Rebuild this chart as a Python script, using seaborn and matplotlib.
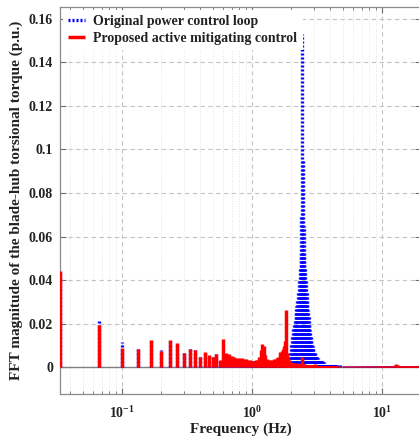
import numpy as np
import pandas as pd
import matplotlib
matplotlib.use("Agg")
import matplotlib.pyplot as plt
import seaborn as sns
from matplotlib.ticker import LogLocator, FixedLocator, FuncFormatter

# FFT bins: k/30 Hz, k = 1..132 (0.033 - 4.4 Hz)
bin_freq = np.arange(1, 133) / 30.0

red_mag = [
    0.0443, 0.0193, 0.0089, 0.0084, 0.0123, 0.0073, 0.0125, 0.0109, 0.0064, 0.0083,
    0.0077, 0.0047, 0.0067, 0.0053, 0.0047, 0.0062, 0.0030, 0.0128, 0.0066, 0.0062,
    0.0050, 0.0048, 0.0043, 0.0042, 0.0040, 0.0039, 0.0036, 0.0033, 0.0030, 0.0028,
    0.0029, 0.0031, 0.0033, 0.0045, 0.0078, 0.0104, 0.0095, 0.0055, 0.0035, 0.0030,
    0.0032, 0.0028, 0.0030, 0.0035, 0.0033, 0.0038, 0.0040, 0.0045, 0.0068, 0.0062,
    0.0075, 0.0085, 0.0095, 0.0120, 0.0262, 0.0065, 0.0040, 0.0030, 0.0025, 0.0020,
    0.0019, 0.0018, 0.0018, 0.0017, 0.0016, 0.0016, 0.0015, 0.0015, 0.0014, 0.0014,
    0.0013, 0.0014, 0.0044, 0.0015, 0.0012, 0.0012, 0.0011, 0.0011, 0.0011, 0.0010,
    0.0010, 0.0010, 0.0009, 0.0009, 0.0009, 0.0009, 0.0008, 0.0008, 0.0008, 0.0008,
    0.0012, 0.0008, 0.0008, 0.0007, 0.0007, 0.0007, 0.0007, 0.0007, 0.0007, 0.0007,
    0.0007, 0.0006, 0.0006, 0.0006, 0.0006, 0.0006, 0.0006, 0.0006, 0.0006, 0.0006,
    0.0006, 0.0006, 0.0005, 0.0005, 0.0005, 0.0005, 0.0005, 0.0005, 0.0005, 0.0005,
    0.0005, 0.0005, 0.0005, 0.0005, 0.0005, 0.0005, 0.0005, 0.0005, 0.0005, 0.0005,
    0.0005, 0.0005,
]

blue_mag = [
    0.0443, 0.0218, 0.0113, 0.0084, 0.0123, 0.0078, 0.0125, 0.0109, 0.0064, 0.0083,
    0.0077, 0.0047, 0.0067, 0.0053, 0.0047, 0.0060, 0.0034, 0.0040, 0.0040, 0.0040,
    0.0038, 0.0036, 0.0036, 0.0035, 0.0035, 0.0034, 0.0034, 0.0034, 0.0034, 0.0033,
    0.0031, 0.0030, 0.0030, 0.0030, 0.0029, 0.0029, 0.0029, 0.0030, 0.0031, 0.0030,
    0.0029, 0.0029, 0.0029, 0.0028, 0.0028, 0.0028, 0.0028, 0.0027, 0.0027, 0.0027,
    0.0027, 0.0026, 0.0026, 0.0026, 0.0028, 0.0030, 0.0025, 0.0050, 0.0075, 0.0110,
    0.0140, 0.0180, 0.0200, 0.0220, 0.0250, 0.0280, 0.0310, 0.0350, 0.0400, 0.0450,
    0.0520, 0.0700, 0.1530, 0.0950, 0.0650, 0.0520, 0.0450, 0.0400, 0.0340, 0.0300,
    0.0260, 0.0230, 0.0200, 0.0170, 0.0145, 0.0125, 0.0110, 0.0095, 0.0085, 0.0075,
    0.0068, 0.0061, 0.0055, 0.0050, 0.0046, 0.0040, 0.0036, 0.0033, 0.0030, 0.0029,
    0.0028, 0.0027, 0.0026, 0.0026, 0.0025, 0.0024, 0.0023, 0.0020, 0.0018, 0.0016,
    0.0015, 0.0014, 0.0013, 0.0012, 0.0012, 0.0011, 0.0011, 0.0011, 0.0010, 0.0010,
    0.0010, 0.0010, 0.0010, 0.0010, 0.0010, 0.0010, 0.0010, 0.0009, 0.0009, 0.0008,
    0.0008, 0.0008,
]

# high-frequency tail, coarser steps (4.5 - 19.8 Hz)
tail_freq = np.arange(4.5, 19.85, 0.3)
tail_blue = [
    0.0008, 0.0008, 0.0007, 0.0007, 0.0007, 0.0006, 0.0006, 0.0006, 0.0006, 0.0006,
    0.0006, 0.0006, 0.0006, 0.0006, 0.0005, 0.0005, 0.0005, 0.0005, 0.0005, 0.0005,
    0.0005, 0.0005, 0.0005, 0.0005, 0.0005, 0.0005, 0.0005, 0.0005, 0.0005, 0.0005,
    0.0005, 0.0005, 0.0005, 0.0005, 0.0005, 0.0005, 0.0005, 0.0005, 0.0005, 0.0005,
    0.0005, 0.0005, 0.0005, 0.0005, 0.0005, 0.0005, 0.0005, 0.0005, 0.0005, 0.0005,
    0.0005, 0.0005,
]
tail_red = [
    0.0005, 0.0005, 0.0004, 0.0004, 0.0004, 0.0004, 0.0004, 0.0004, 0.0004, 0.0004,
    0.0004, 0.0004, 0.0004, 0.0004, 0.0004, 0.0004, 0.0004, 0.0004, 0.0004, 0.0004,
    0.0004, 0.0004, 0.0004, 0.0004, 0.0004, 0.0004, 0.0006, 0.0010, 0.0012, 0.0009,
    0.0005, 0.0004, 0.0004, 0.0004, 0.0004, 0.0004, 0.0004, 0.0004, 0.0004, 0.0004,
    0.0004, 0.0004, 0.0004, 0.0004, 0.0004, 0.0004, 0.0004, 0.0004, 0.0004, 0.0004,
    0.0004, 0.0004,
]

series_labels = ["Original power control loop", "Proposed active mitigating control"]

df = pd.DataFrame({
    "freq": np.concatenate([bin_freq, tail_freq]),
    "original": np.concatenate([blue_mag, tail_blue]),
    "proposed": np.concatenate([red_mag, tail_red]),
})

sns.set_style("ticks")
plt.rcParams["font.family"] = ["Liberation Serif", "DejaVu Serif"]
plt.rcParams["font.weight"] = "bold"
plt.rcParams["mathtext.fontset"] = "custom"
plt.rcParams["mathtext.rm"] = "Liberation Serif:bold"
plt.rcParams["mathtext.it"] = "Liberation Serif:bold"
plt.rcParams["mathtext.bf"] = "Liberation Serif:bold"

fig = plt.figure(figsize=(4.19, 4.42), dpi=100)
ax = fig.add_axes([60 / 419, 48 / 442, 361 / 419, 387 / 442])

ax.set_xscale("log")
ax.set_xlim(1 / 30, 20)
ax.set_ylim(-0.0124, 0.1655)

grid_col = "#c4c4c4"
ax.grid(True, which="major", axis="both", color=grid_col, linestyle=(0, (4, 3)), linewidth=0.8)
ax.grid(True, which="minor", axis="x", color="#dcdcdc", linestyle=(0, (1, 2)), linewidth=0.6)
ax.set_axisbelow(True)

ax.axhline(0, color="#808080", linewidth=1.0, zorder=1.5)

ax.vlines(df["freq"], 0, df["original"], colors="#0000ff", linewidth=2.4,
          linestyles=[(0, (0.6, 0.6))], label=series_labels[0], zorder=2)
ax.vlines(df["freq"], 0, df["proposed"], colors="#ff0000", linewidth=2.5,
          label=series_labels[1], zorder=3)

ax.set_yticks(np.arange(0, 0.161, 0.02))
ax.yaxis.set_major_formatter(FuncFormatter(lambda v, p: f"{round(v, 4):g}"))
ax.xaxis.set_major_locator(FixedLocator([0.1, 1, 10]))
ax.xaxis.set_major_formatter(FuncFormatter(lambda v, p: r"$10^{%d}$" % int(round(np.log10(v)))))
ax.xaxis.set_minor_locator(LogLocator(base=10, subs=np.arange(2, 10)))

ax.tick_params(axis="both", which="both", direction="in", top=True, right=True,
               colors="#707070", labelcolor="#222222", labelsize=10)
ax.tick_params(axis="both", which="major", length=4, width=0.8)
ax.tick_params(axis="both", which="minor", length=2.5, width=0.6)
ax.tick_params(axis="x", which="major", pad=8)
ax.tick_params(axis="y", which="major", pad=5)

for s in ax.spines.values():
    s.set_color("#8a8a8a")
    s.set_linewidth(0.9)

ax.set_xlabel("Frequency (Hz)", fontsize=11, fontweight="bold", color="#222222", labelpad=1)
ax.set_ylabel("FFT magnitude of the blade-hub torsional torque (p.u.)", fontsize=11,
              fontweight="bold", color="#222222", labelpad=4)

leg = ax.legend(loc="upper left", fontsize=10, frameon=True, fancybox=False,
                edgecolor="none", facecolor="white", framealpha=1,
                handlelength=1.2, handletextpad=0.6, borderpad=0.4, labelspacing=0.25,
                borderaxespad=0.2)
for t in leg.get_texts():
    t.set_color("#222222")

fig.savefig("out.png", dpi=100)
